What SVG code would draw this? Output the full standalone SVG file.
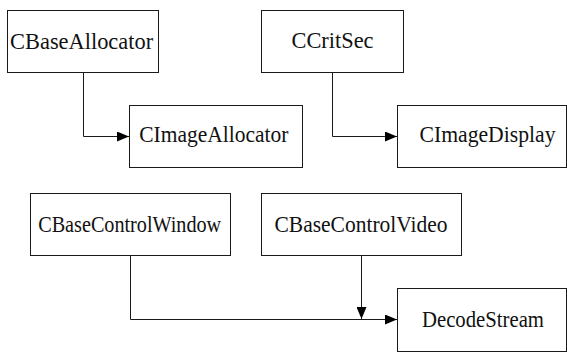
<svg xmlns="http://www.w3.org/2000/svg" width="567" height="354" viewBox="0 0 567 354">
  <style>
    .box { fill: #ffffff; stroke: #1a1a1a; stroke-width: 1; }
    .label { font-family: "Liberation Serif", "Times New Roman", serif; font-size: 20px; fill: #111111; text-anchor: middle; }
    .link { fill: none; stroke: #1a1a1a; stroke-width: 1; }
  </style>
  <defs>
    <marker id="arrow" markerUnits="userSpaceOnUse" markerWidth="12" markerHeight="10" viewBox="0 0 12 10" refX="12" refY="5" orient="auto">
      <path d="M0,0 L12,5 L0,10 Z" fill="#000000"/>
    </marker>
  </defs>
  <rect width="567" height="354" fill="#ffffff"/>

  <g id="connectors">
    <path class="link" d="M83.5,72.5 V136.5 H129" marker-end="url(#arrow)"/>
    <path class="link" d="M332.5,72.5 V136.5 H397" marker-end="url(#arrow)"/>
    <path class="link" d="M130.5,255.5 V319.5 H397" marker-end="url(#arrow)"/>
    <path class="link" d="M361.5,255.5 V319" marker-end="url(#arrow)"/>
  </g>

  <!-- labels are stretched vertically for a tall, narrow letterform -->
  <g id="CBaseAllocator">
    <rect class="box" x="7.5" y="10.5" width="151" height="62"/>
    <text class="label" transform="translate(81.6,48.5) scale(1,1.2)" textLength="143" lengthAdjust="spacingAndGlyphs">CBaseAllocator</text>
  </g>
  <g id="CImageAllocator">
    <rect class="box" x="129.5" y="105.5" width="173" height="62"/>
    <text class="label" transform="translate(213.8,141.7) scale(1,1.2)" textLength="149" lengthAdjust="spacingAndGlyphs">CImageAllocator</text>
  </g>
  <g id="CCritSec">
    <rect class="box" x="261.5" y="10.5" width="142" height="62"/>
    <text class="label" transform="translate(332.5,48.3) scale(1,1.2)" textLength="82" lengthAdjust="spacingAndGlyphs">CCritSec</text>
  </g>
  <g id="CImageDisplay">
    <rect class="box" x="397.5" y="105.5" width="169" height="62"/>
    <text class="label" transform="translate(487.5,141.7) scale(1,1.2)" textLength="136" lengthAdjust="spacingAndGlyphs">CImageDisplay</text>
  </g>
  <g id="CBaseControlWindow">
    <rect class="box" x="30.5" y="193.5" width="200" height="62"/>
    <text class="label" transform="translate(129.7,232) scale(1,1.2)" textLength="183" lengthAdjust="spacingAndGlyphs">CBaseControlWindow</text>
  </g>
  <g id="CBaseControlVideo">
    <rect class="box" x="261.5" y="193.5" width="200" height="62"/>
    <text class="label" transform="translate(361,232) scale(1,1.2)" textLength="173" lengthAdjust="spacingAndGlyphs">CBaseControlVideo</text>
  </g>
  <g id="DecodeStream">
    <rect class="box" x="397.5" y="288.5" width="169" height="63"/>
    <text class="label" transform="translate(483,327.3) scale(1,1.2)" textLength="122" lengthAdjust="spacingAndGlyphs">DecodeStream</text>
  </g>
</svg>
